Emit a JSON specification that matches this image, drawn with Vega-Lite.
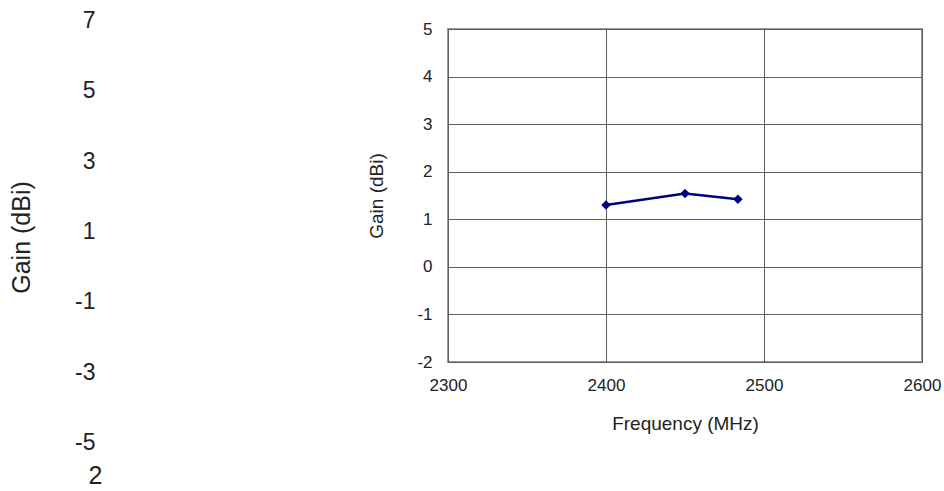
{
  "$schema": "https://vega.github.io/schema/vega-lite/v6.json",
  "width": 474,
  "height": 333,
  "autosize": "none",
  "padding": {"left": 448, "top": 29, "right": 22, "bottom": 129},
  "background": "white",
  "config": {
    "font": "Liberation Sans",
    "view": {"stroke": "#9a9a9a", "strokeWidth": 2},
    "axis": {"labelColor": "#222", "titleColor": "#222", "titleFontWeight": "normal", "ticks": false, "domain": false, "labelFlush": false, "labelExpr": "'' + datum.value"}
  },
  "datasets": {
    "gain": [
      {"freq": 2400, "gain": 1.3},
      {"freq": 2450, "gain": 1.54},
      {"freq": 2483.5, "gain": 1.42}
    ],
    "side": [
      {"freq": 2300, "gain": 1}
    ]
  },
  "layer": [
    {
      "data": {"name": "gain"},
      "mark": {"type": "line", "color": "#000080", "strokeWidth": 2.5, "point": {"shape": "diamond", "filled": true, "size": 90, "color": "#000080"}},
      "encoding": {
        "x": {
          "field": "freq", "type": "quantitative",
          "scale": {"domain": [2300, 2600], "nice": false, "zero": false},
          "axis": {"orient": "bottom", "values": [2300, 2400, 2500, 2600], "grid": true, "gridColor": "#5e5e5e", "gridWidth": 1,
                   "labelFontSize": 17, "labelPadding": 15, "labelFlush": false, "labelExpr": "'' + datum.value",
                   "title": "Frequency (MHz)", "titleFontSize": 19, "titlePadding": 21}
        },
        "y": {
          "field": "gain", "type": "quantitative",
          "scale": {"domain": [-2, 5], "nice": false, "zero": false},
          "axis": {"orient": "left", "values": [-2, -1, 0, 1, 2, 3, 4, 5], "grid": true, "gridColor": "#5e5e5e", "gridWidth": 1,
                   "labelFontSize": 17, "labelPadding": 16, "labelFlush": false, "labelExpr": "'' + datum.value",
                   "title": "Gain (dBi)", "titleFontSize": 19, "titlePadding": 30}
        }
      }
    },
    {
      "data": {"name": "side"},
      "mark": {"type": "point", "opacity": 0},
      "encoding": {
        "x": {
          "field": "freq", "type": "quantitative",
          "scale": {"domain": [2300, 2600], "range": [-343, 131], "nice": false, "zero": false},
          "axis": {"orient": "bottom", "offset": 95, "values": [2300], "grid": false, "labelFontSize": 25, "labelPadding": 6,
                   "labelFlush": false, "labelAlign": "left", "labelOffset": -17, "labelExpr": "'2'", "title": null}
        },
        "y": {
          "field": "gain", "type": "quantitative",
          "scale": {"domain": [-6, 8], "range": [449, -44], "nice": false, "zero": false},
          "axis": {"orient": "left", "offset": 343, "values": [7, 5, 3, 1, -1, -3, -5], "grid": false, "labelFontSize": 23, "labelPadding": 10,
                   "labelFlush": false, "labelExpr": "'' + datum.value",
                   "title": "Gain (dBi)", "titleFontSize": 25, "titlePadding": 40, "titleY": 208}
        }
      }
    }
  ],
  "resolve": {
    "scale": {"x": "independent", "y": "independent"},
    "axis": {"x": "independent", "y": "independent"}
  }
}
